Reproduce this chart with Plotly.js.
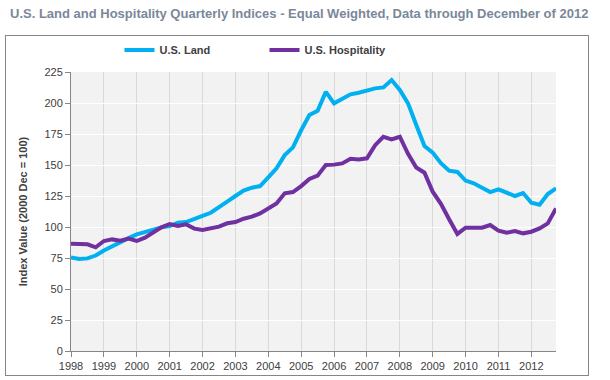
<!DOCTYPE html>
<html>
<head>
<meta charset="utf-8">
<script src="https://cdn.plot.ly/plotly-3.0.1.min.js"></script>
<style>
  html, body { margin: 0; padding: 0; background: #ffffff; }
  #wrap { position: relative; width: 610px; height: 380px; }
  #chart { position: absolute; left: 0; top: 0; width: 610px; height: 380px; }
  #frame { position: absolute; left: 5px; top: 35px; width: 582px; height: 339px; border: 1px solid #868686; pointer-events: none; }
</style>
</head>
<body>
<div id="wrap">
  <div id="frame"></div>
  <div id="chart"></div>
</div>
<script>
// Years shown on the x axis
const years = [1998, 1999, 2000, 2001, 2002, 2003, 2004, 2005, 2006, 2007, 2008, 2009, 2010, 2011, 2012];
const quartersPerYear = 4;

// U.S. Land index, quarterly 1998 Q1 .. 2012 Q4
const landValues = [
  75.5, 74.2, 74.7, 77.0,
  81.0, 84.5, 88.0, 91.0,
  94.0, 96.0, 97.5, 99.7,
  100.8, 103.5, 104.0, 106.2,
  108.9, 111.5, 116.4, 120.4,
  125.0, 129.3, 131.7, 133.0,
  140.0, 147.3, 158.0, 164.2,
  178.0, 190.3, 193.8, 209.0,
  199.7, 203.7, 207.0, 208.3,
  210.0, 211.8, 212.6, 218.5,
  210.5, 199.7, 182.3, 165.3,
  160.0, 151.5, 145.4, 144.4,
  137.4, 135.2, 131.7, 128.2,
  130.4, 127.7, 125.0, 127.4,
  119.6, 118.0, 126.6, 131.2
];

// U.S. Hospitality index, quarterly 1998 Q1 .. 2012 Q4
const hospitalityValues = [
  86.5, 86.0, 86.0, 83.6,
  88.7, 90.0, 89.0, 90.6,
  88.7, 91.4, 95.4, 99.7,
  102.4, 100.8, 102.1, 98.7,
  97.6, 99.2, 100.3, 103.0,
  104.0, 106.7, 108.3, 111.0,
  115.0, 119.0, 127.2, 128.2,
  133.0, 138.7, 141.4, 150.0,
  150.3, 151.3, 155.0, 154.5,
  155.4, 166.0, 172.8, 170.7,
  172.8, 159.0, 148.0, 143.8,
  128.5, 118.7, 106.2, 94.4,
  99.4, 99.4, 99.4, 101.6,
  97.0, 95.4, 96.8, 94.9,
  96.2, 98.9, 102.9, 115.0
];

const yTicks = [0, 25, 50, 75, 100, 125, 150, 175, 200, 225];

// quarter positions (year + fraction) used as x categories
const quarterX = [];
years.forEach(function (y) {
  for (let q = 0; q < quartersPerYear; q++) quarterX.push(y + q / quartersPerYear);
});

const FONT = '"Liberation Sans", Arial, sans-serif';

const traces = [
  {
    x: quarterX, y: landValues, name: 'U.S. Land', type: 'scatter', mode: 'lines',
    line: { color: '#00b0f0', width: 4 }
  },
  {
    x: quarterX, y: hospitalityValues, name: 'U.S. Hospitality', type: 'scatter', mode: 'lines',
    line: { color: '#7030a0', width: 4 }
  }
];

const layout = {
  width: 610, height: 380,
  margin: { l: 71, r: 54, t: 72, b: 29, pad: 0 },
  paper_bgcolor: 'rgba(0,0,0,0)',
  plot_bgcolor: '#f2f2f2',
  showlegend: true,
  title: {
    text: 'U.S. Land and Hospitality Quarterly Indices - Equal Weighted, Data through December of 2012',
    xref: 'container', yref: 'container', x: 10 / 610, xanchor: 'left', y: 1 - 13 / 380, yanchor: 'middle',
    font: { family: FONT, size: 13, color: '#7a8898', weight: 'bold' }
  },
  legend: {
    orientation: 'h', x: 0.1, xanchor: 'left', y: 1.079, yanchor: 'middle',
    font: { family: FONT, size: 11, color: '#404040', weight: 'bold' },
    entrywidth: 100, entrywidthmode: 'pixels', bgcolor: 'rgba(0,0,0,0)', traceorder: 'normal'
  },
  xaxis: {
    type: 'linear', range: [years[0], years[years.length - 1] + 0.75],
    tickmode: 'array', tickvals: years, ticktext: years.map(String),
    showgrid: true, gridcolor: '#d9d9d9', gridwidth: 1,
    showline: true, linecolor: '#868686', linewidth: 1,
    ticks: 'outside', ticklen: 5, tickcolor: '#868686',
    tickfont: { family: FONT, size: 11, color: '#404040' },
    zeroline: false, fixedrange: true
  },
  yaxis: {
    range: [0, 225], tickmode: 'array', tickvals: yTicks, ticktext: yTicks.map(String),
    showgrid: true, gridcolor: '#ffffff', gridwidth: 1,
    showline: true, linecolor: '#868686', linewidth: 1,
    ticks: 'outside', ticklen: 5, tickcolor: '#868686',
    tickfont: { family: FONT, size: 11, color: '#404040' },
    zeroline: false, fixedrange: true,
    title: { text: 'Index Value (2000 Dec = 100)', standoff: 14,
      font: { family: FONT, size: 11, color: '#404040', weight: 'bold' } }
  }
};

Plotly.newPlot('chart', traces, layout, { displayModeBar: false, staticPlot: true });
</script>
</body>
</html>
